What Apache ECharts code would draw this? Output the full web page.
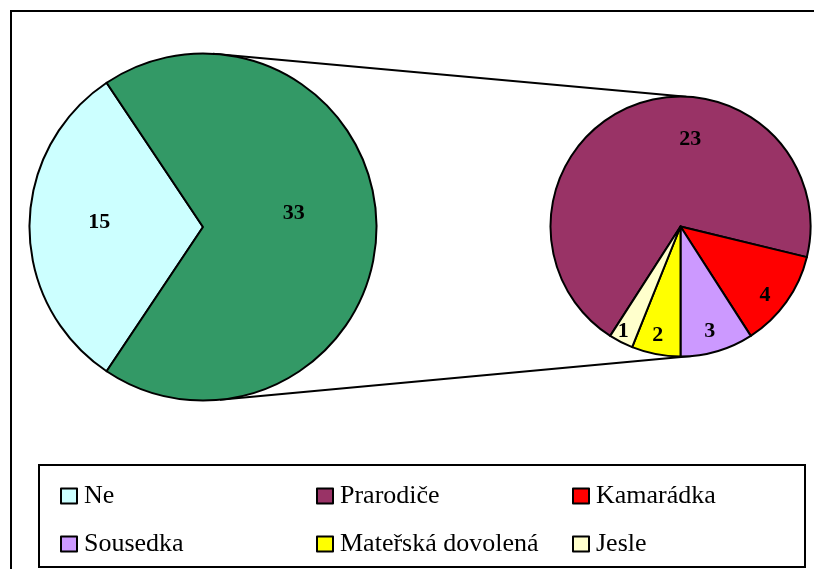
<!DOCTYPE html>
<html><head><meta charset="utf-8">
<script src="https://cdn.jsdelivr.net/npm/echarts@6/dist/echarts.min.js"></script>
<style>html,body{margin:0;padding:0;background:#fff}#c{width:814px;height:569px}</style>
</head><body><div id="c"></div>
<script>
// ---- data ----
const mainNames = ['Ne'];
const mainValues = [15];
const restName = 'Ostatní';
const detailNames = ['Prarodiče', 'Kamarádka', 'Sousedka', 'Mateřská dovolená', 'Jesle'];
const detailValues = [23, 4, 3, 2, 1];
const legendOrder = ['Ne', 'Prarodiče', 'Kamarádka', 'Sousedka', 'Mateřská dovolená', 'Jesle'];

// ---- styles ----
const mainColors = ['#CCFFFF', '#339966'];
const detailColors = ['#993366', '#FF0000', '#CC99FF', '#FFFF00', '#FFFFCC'];
const FONT = '"Liberation Serif", "Times New Roman", serif';

const L = { cx: 203, cy: 227, r: 173.5 };
const R = { cx: 680.5, cy: 226.5, r: 130 };

// label nudges (Excel-like label placement)
const mainLabelNudge = [[-14, -5], [1, -14]];
const detailLabelNudge = [[35, -24], [29, 29], [10, 40], [-10, 42], [-26, 44]];

const restValue = detailValues.reduce((a, b) => a + b, 0);
const mainTotal = mainValues[0] + restValue;
const mainStart = 180 + (mainValues[0] / mainTotal) * 360 / 2;
// detail pie: Sousedka ends exactly at the bottom (270 deg)
const tailSum = detailValues[3] + detailValues[4];
const detailStart = 270 - (tailSum / restValue) * 360;

function pt(c, deg) {
  const a = deg * Math.PI / 180;
  return [c.cx + c.r * Math.cos(a), c.cy - c.r * Math.sin(a)];
}
const lt = pt(L, 86.7), rt = pt(R, 87.4), lb = pt(L, -84.4), rb = pt(R, -85);

const labelBase = {
  show: true, position: 'inside', color: '#000', fontFamily: FONT,
  fontWeight: 'bold', fontSize: 22, formatter: '{c}'
};

const mainData = [
  { name: mainNames[0], value: mainValues[0], itemStyle: { color: mainColors[0] },
    label: { offset: mainLabelNudge[0] } },
  { name: restName, value: restValue, itemStyle: { color: mainColors[1] },
    label: { offset: mainLabelNudge[1] } }
];
const detailData = detailNames.map((n, i) => ({
  name: n, value: detailValues[i], itemStyle: { color: detailColors[i] },
  label: { offset: detailLabelNudge[i] }
}));

const chart = echarts.init(document.getElementById('c'), null, { renderer: 'canvas' });
chart.setOption({
  animation: false,
  backgroundColor: '#fff',
  graphic: [
    { type: 'rect', shape: { x: 11, y: 11, width: 900, height: 700 },
      style: { fill: 'none', stroke: '#000', lineWidth: 2 }, silent: true },
    { type: 'rect', shape: { x: 39, y: 465, width: 766, height: 102 },
      style: { fill: 'none', stroke: '#000', lineWidth: 2 }, silent: true },
    { type: 'line', shape: { x1: lt[0], y1: lt[1], x2: rt[0], y2: rt[1] },
      style: { stroke: '#000', lineWidth: 2 }, silent: true },
    { type: 'line', shape: { x1: lb[0], y1: lb[1], x2: rb[0], y2: rb[1] },
      style: { stroke: '#000', lineWidth: 2 }, silent: true }
  ],
  legend: {
    data: legendOrder,
    left: 55, top: 467, width: 780,
    itemWidth: 16, itemHeight: 15, itemGap: 0,
    icon: 'rect', selectedMode: false,
    itemStyle: { borderColor: '#000', borderWidth: 2 },
    textStyle: { fontFamily: FONT, fontSize: 26, color: '#000',
      width: 232, lineHeight: 48, padding: [0, 0, 0, 2], overflow: 'none' }
  },
  series: [
    {
      type: 'pie', center: [L.cx, L.cy], radius: L.r,
      startAngle: mainStart, clockwise: true, avoidLabelOverlap: false,
      silent: true, emphasis: { disabled: true },
      itemStyle: { borderColor: '#000', borderWidth: 2 },
      label: labelBase, labelLine: { show: false },
      data: mainData
    },
    {
      type: 'pie', center: [R.cx, R.cy], radius: R.r,
      startAngle: detailStart, clockwise: true, avoidLabelOverlap: false,
      silent: true, emphasis: { disabled: true },
      itemStyle: { borderColor: '#000', borderWidth: 2 },
      label: labelBase, labelLine: { show: false },
      data: detailData
    }
  ]
});
</script>
</body></html>
